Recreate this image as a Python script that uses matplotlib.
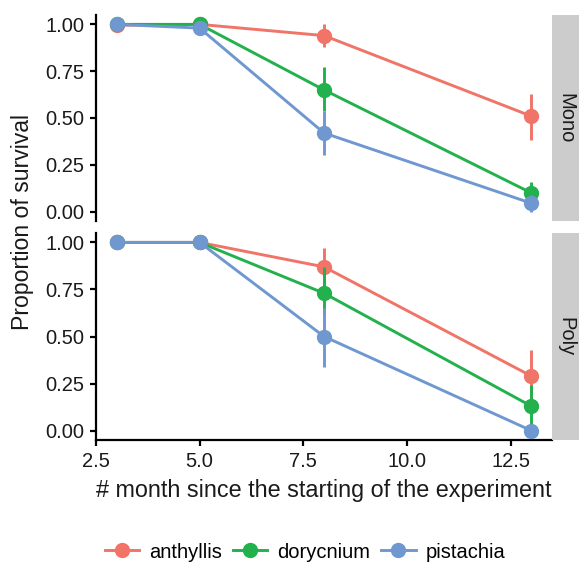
import matplotlib
matplotlib.use('Agg')
import matplotlib.pyplot as plt
import numpy as np
from matplotlib.lines import Line2D

plt.rcParams['font.family'] = ['Liberation Sans', 'DejaVu Sans']

months = [3, 5, 8, 13]
species = ['anthyllis', 'dorycnium', 'pistachia']
colors = ['#F07467', '#22B14C', '#6F97D0']
facets = ['Mono', 'Poly']

# mean proportion of survival, per facet / species
mono_mean = {
    'anthyllis': [0.995, 1.0, 0.94, 0.51],
    'dorycnium': [1.0, 1.0, 0.65, 0.10],
    'pistachia': [1.0, 0.98, 0.42, 0.045],
}
mono_lo = {
    'anthyllis': [0.995, 1.0, 0.88, 0.38],
    'dorycnium': [1.0, 1.0, 0.54, 0.06],
    'pistachia': [1.0, 0.98, 0.30, 0.0],
}
mono_hi = {
    'anthyllis': [0.995, 1.0, 1.0, 0.63],
    'dorycnium': [1.0, 1.0, 0.77, 0.16],
    'pistachia': [1.0, 0.98, 0.54, 0.09],
}
poly_mean = {
    'anthyllis': [1.0, 1.0, 0.87, 0.29],
    'dorycnium': [1.0, 1.0, 0.73, 0.13],
    'pistachia': [1.0, 1.0, 0.50, 0.0],
}
poly_lo = {
    'anthyllis': [1.0, 1.0, 0.77, 0.15],
    'dorycnium': [1.0, 1.0, 0.61, 0.03],
    'pistachia': [1.0, 1.0, 0.34, 0.0],
}
poly_hi = {
    'anthyllis': [1.0, 1.0, 0.97, 0.43],
    'dorycnium': [1.0, 1.0, 0.87, 0.24],
    'pistachia': [1.0, 1.0, 0.65, 0.0],
}

W, H = 579, 563
fig = plt.figure(figsize=(W / 100, H / 100), dpi=100)

def px(x0, y0, x1, y1):
    return [x0 / W, 1 - y1 / H, (x1 - x0) / W, (y1 - y0) / H]

txt_col = '#1A1A1A'
panels = [(px(96, 15, 552, 221), facets[0], mono_mean, mono_lo, mono_hi),
          (px(96, 233, 552, 440), facets[1], poly_mean, poly_lo, poly_hi)]

for i, (rect, name, mean, lo, hi) in enumerate(panels):
    ax = fig.add_axes(rect)
    for sp, c in zip(species, colors):
        ax.plot(months, mean[sp], color=c, lw=2.1, zorder=2)
    for sp, c in zip(species, colors):
        m = np.array(mean[sp])
        ax.vlines(months, lo[sp], hi[sp], color=c, lw=2.1, zorder=3)
        ax.plot(months, m, 'o', color=c, ms=10, zorder=3)
    ax.set_xlim(2.5, 13.5)
    ax.set_ylim(-0.05, 1.05)
    ax.set_yticks([0, 0.25, 0.5, 0.75, 1.0])
    ax.set_yticklabels(['0.00', '0.25', '0.50', '0.75', '1.00'])
    ax.set_xticks([2.5, 5.0, 7.5, 10.0, 12.5])
    for s in ['top', 'right']:
        ax.spines[s].set_visible(False)
    for s in ['left', 'bottom']:
        ax.spines[s].set_linewidth(1.6)
        ax.spines[s].set_color('black')
    ax.tick_params(width=1.6, length=4.5, labelsize=14.5, colors='black',
                   labelcolor=txt_col, pad=4)
    if i == 0:
        ax.spines['bottom'].set_visible(False)
        ax.tick_params(axis='x', bottom=False, labelbottom=False)
    else:
        ax.set_xlabel('# month since the starting of the experiment',
                      fontsize=16.8, color=txt_col, labelpad=6)
    # facet strip on the right
    r = rect
    sax = fig.add_axes([r[0] + r[2], r[1], 27 / W, r[3]])
    sax.set_facecolor('#CCCCCC')
    sax.set_xticks([])
    sax.set_yticks([])
    for s in sax.spines.values():
        s.set_visible(False)
    sax.text(0.5, 0.5, name, rotation=-90, ha='center', va='center',
             fontsize=14.5, color=txt_col, transform=sax.transAxes)

fig.text(23 / W, 1 - 222 / H, 'Proportion of survival', rotation=90,
         ha='center', va='center', fontsize=16.6, color=txt_col)

handles = [Line2D([], [], color=c, lw=2.1, marker='o', ms=10) for c in colors]
fig.legend(handles, species, loc='center', bbox_to_anchor=(305 / W, 1 - 552 / H),
           ncol=3, frameon=False, fontsize=14.5, handlelength=1.7,
           handletextpad=0.5, columnspacing=0.55, borderaxespad=0)

fig.savefig('out.png', dpi=100)
